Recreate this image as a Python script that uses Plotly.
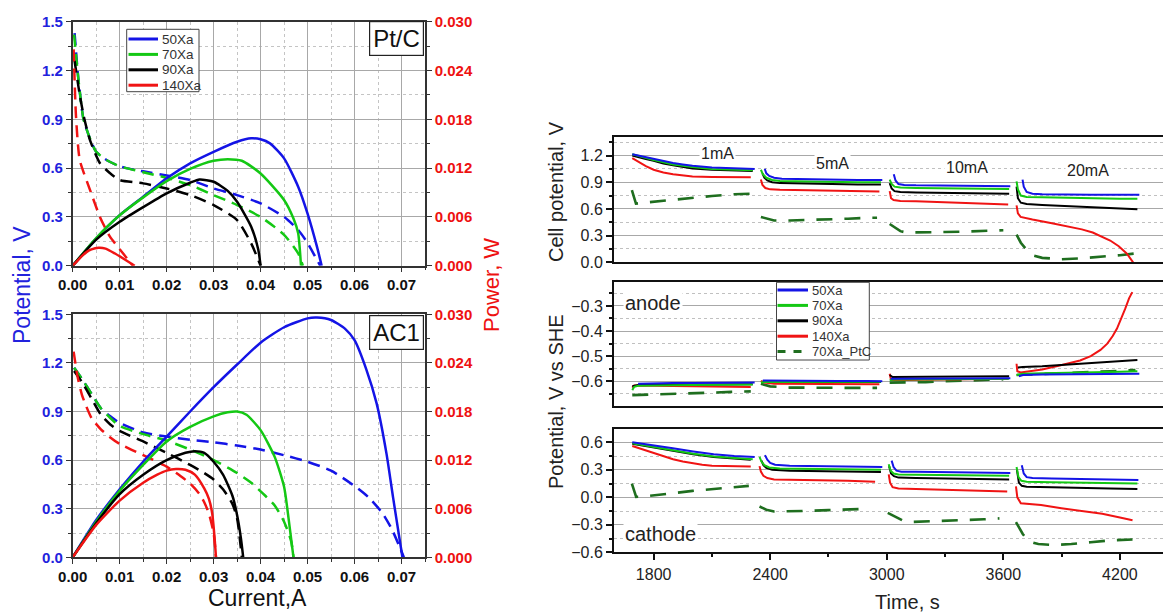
import plotly.graph_objects as go

# ---------------- Left panels: polarization (dashed, V) and power (solid, W) ----------------
# Pt/C panel - polarization curves
pt_50_I = [0.0004, 0.0012, 0.0023, 0.0037, 0.005, 0.0072, 0.0093, 0.0114, 0.015, 0.02, 0.025, 0.03, 0.035, 0.04, 0.045, 0.048, 0.05, 0.052, 0.0527]
pt_50_V = [1.43, 1.15, 0.90, 0.78, 0.70, 0.65, 0.62, 0.60, 0.58, 0.555, 0.527, 0.475, 0.434, 0.383, 0.30, 0.22, 0.14, 0.035, 0.0]
pt_70_I = [0.0003, 0.0012, 0.0023, 0.0037, 0.005, 0.0072, 0.0093, 0.0114, 0.015, 0.02, 0.025, 0.03, 0.035, 0.04, 0.045, 0.048, 0.049]
pt_70_V = [1.42, 1.15, 0.90, 0.78, 0.70, 0.65, 0.62, 0.60, 0.575, 0.54, 0.496, 0.434, 0.373, 0.30, 0.19, 0.076, 0.0]
pt_90_I = [0.0004, 0.0015, 0.0025, 0.0037, 0.0058, 0.0079, 0.01, 0.015, 0.02, 0.025, 0.03, 0.035, 0.038, 0.040]
pt_90_V = [1.26, 1.05, 0.90, 0.77, 0.63, 0.57, 0.527, 0.506, 0.475, 0.434, 0.373, 0.28, 0.137, 0.0]
pt_140_I = [0.0002, 0.0007, 0.0015, 0.0037, 0.0058, 0.0079, 0.0107, 0.0128]
pt_140_V = [1.33, 0.92, 0.65, 0.465, 0.30, 0.18, 0.076, 0.0]
# Pt/C panel - power curves
ptp_50_I = [0, 0.005, 0.01, 0.015, 0.02, 0.025, 0.03, 0.035, 0.038, 0.04, 0.042, 0.045, 0.048, 0.05, 0.052, 0.053]
ptp_50_W = [0, 0.00336, 0.00622, 0.00848, 0.01074, 0.01258, 0.0140, 0.01524, 0.01566, 0.01554, 0.01504, 0.0132, 0.00972, 0.0064, 0.00234, 0]
ptp_70_I = [0, 0.005, 0.01, 0.015, 0.02, 0.025, 0.03, 0.033, 0.036, 0.04, 0.045, 0.047, 0.048, 0.0486]
ptp_70_W = [0, 0.0034, 0.0062, 0.0084, 0.0104, 0.0119, 0.0129, 0.0131, 0.0129, 0.01134, 0.00808, 0.0058, 0.004, 0]
ptp_90_I = [0, 0.005, 0.01, 0.015, 0.02, 0.025, 0.027, 0.03, 0.033, 0.035, 0.038, 0.0395, 0.040]
ptp_90_W = [0, 0.0032, 0.0054, 0.0072, 0.0089, 0.0102, 0.0106, 0.01032, 0.0092, 0.00786, 0.0048, 0.002, 0]
ptp_140_I = [0, 0.001, 0.002, 0.003, 0.004, 0.0055, 0.007, 0.009, 0.011, 0.0132]
ptp_140_W = [0, 0.0006, 0.0012, 0.0017, 0.002, 0.0022, 0.0021, 0.0015, 0.0008, 0]

# AC1 panel - polarization curves
ac_50_I = [0.0003, 0.002, 0.004, 0.006, 0.008, 0.01, 0.015, 0.02, 0.025, 0.03, 0.035, 0.04, 0.045, 0.05, 0.055, 0.06, 0.063, 0.066, 0.068, 0.0698, 0.0705]
ac_50_V = [1.17, 1.10, 1.01, 0.92, 0.87, 0.83, 0.77, 0.745, 0.725, 0.71, 0.69, 0.665, 0.63, 0.59, 0.535, 0.44, 0.37, 0.27, 0.17, 0.05, 0.0]
ac_70_I = [0.0003, 0.002, 0.004, 0.006, 0.008, 0.01, 0.015, 0.02, 0.025, 0.03, 0.035, 0.038, 0.041, 0.043, 0.045, 0.0465, 0.047]
ac_70_V = [1.17, 1.10, 1.01, 0.92, 0.86, 0.81, 0.76, 0.72, 0.665, 0.60, 0.52, 0.46, 0.38, 0.32, 0.22, 0.10, 0.0]
ac_90_I = [0.0003, 0.002, 0.004, 0.006, 0.008, 0.01, 0.015, 0.02, 0.025, 0.028, 0.03, 0.032, 0.034, 0.035, 0.036]
ac_90_V = [1.15, 1.08, 0.98, 0.88, 0.82, 0.78, 0.715, 0.645, 0.57, 0.52, 0.48, 0.42, 0.33, 0.24, 0.0]
ac_140_I = [0.0002, 0.001, 0.002, 0.004, 0.006, 0.008, 0.01, 0.015, 0.02, 0.023, 0.025, 0.027, 0.028, 0.029, 0.030, 0.0305]
ac_140_V = [1.27, 1.12, 1.0, 0.86, 0.79, 0.74, 0.70, 0.63, 0.56, 0.50, 0.455, 0.39, 0.34, 0.27, 0.15, 0.0]
# AC1 panel - power curves
acp_50_I = [0, 0.005, 0.01, 0.015, 0.02, 0.025, 0.03, 0.035, 0.04, 0.045, 0.05, 0.052, 0.055, 0.058, 0.06, 0.0625, 0.0647, 0.0668, 0.0682, 0.0696, 0.0702]
acp_50_W = [0, 0.0046, 0.0084, 0.0118, 0.0149, 0.018, 0.021, 0.0238, 0.0265, 0.0284, 0.0295, 0.0296, 0.0293, 0.0282, 0.0268, 0.0232, 0.019, 0.0128, 0.0074, 0.0022, 0]
acp_70_I = [0, 0.005, 0.01, 0.015, 0.02, 0.025, 0.03, 0.033, 0.035, 0.037, 0.04, 0.043, 0.045, 0.046, 0.047]
acp_70_W = [0, 0.0044, 0.0082, 0.0114, 0.0143, 0.0161, 0.0174, 0.0179, 0.0180, 0.0176, 0.0157, 0.0124, 0.0087, 0.0046, 0]
acp_90_I = [0, 0.005, 0.01, 0.015, 0.02, 0.024, 0.026, 0.028, 0.030, 0.032, 0.034, 0.035, 0.0358, 0.0363]
acp_90_W = [0, 0.0042, 0.0078, 0.0102, 0.012, 0.0129, 0.0131, 0.0129, 0.0118, 0.0102, 0.0076, 0.0052, 0.0024, 0]
acp_140_I = [0, 0.005, 0.01, 0.015, 0.018, 0.02, 0.022, 0.024, 0.026, 0.028, 0.029, 0.0297, 0.0302, 0.0305]
acp_140_W = [0, 0.004, 0.007, 0.0092, 0.0102, 0.0107, 0.0109, 0.0108, 0.0102, 0.0085, 0.0072, 0.0054, 0.0024, 0]

left_names = ["50Xa", "70Xa", "90Xa", "140Xa"]

# ---------------- Right panels: chronopotentiometry ----------------
current_steps = ["1mA", "5mA", "10mA", "20mA"]
right_names = ["50Xa", "70Xa", "90Xa", "140Xa", "70Xa_PtC"]

cell_50_t = [1690,1720,1760,1800,1850,1900,1950,2000,2100,2200,2320, None, 2372,2380,2395,2420,2460,2550,2700,2850,2977, None, 3036,3045,3060,3090,3150,3300,3450,3636, None, 3699,3705,3720,3750,3800,3900,4050,4200,4300]
cell_50_v = [1.215,1.20,1.18,1.16,1.135,1.115,1.10,1.085,1.065,1.055,1.05, None, 1.05,1.0,0.97,0.95,0.94,0.935,0.93,0.925,0.925, None, 0.99,0.92,0.88,0.87,0.865,0.86,0.86,0.855, None, 0.93,0.85,0.79,0.77,0.765,0.76,0.76,0.76,0.76]
cell_70_t = [1690,1720,1760,1800,1850,1900,1950,2000,2100,2200,2310, None, 2352,2362,2380,2410,2450,2550,2700,2850,2970, None, 3015,3025,3040,3070,3150,3300,3450,3630, None, 3668,3675,3690,3720,3800,3900,4050,4200,4290]
cell_70_v = [1.215,1.195,1.17,1.15,1.125,1.10,1.085,1.07,1.05,1.04,1.035, None, 1.04,0.99,0.95,0.925,0.915,0.91,0.905,0.90,0.90, None, 0.93,0.88,0.85,0.84,0.835,0.83,0.83,0.825, None, 0.91,0.82,0.75,0.735,0.73,0.725,0.72,0.715,0.715]
cell_90_t = [1690,1720,1760,1800,1850,1900,1950,2000,2100,2200,2310, None, 2360,2370,2385,2410,2450,2550,2700,2850,2970, None, 3015,3025,3040,3070,3150,3300,3450,3630, None, 3668,3675,3690,3720,3800,3900,4050,4200,4290]
cell_90_v = [1.20,1.18,1.16,1.14,1.11,1.09,1.07,1.055,1.04,1.03,1.025, None, 1.0,0.95,0.92,0.90,0.89,0.885,0.88,0.875,0.875, None, 0.89,0.83,0.80,0.79,0.785,0.78,0.775,0.77, None, 0.85,0.72,0.67,0.655,0.645,0.635,0.62,0.605,0.595]
cell_140_t = [1690,1720,1760,1800,1850,1900,1950,2000,2100,2200,2300, None, 2352,2360,2375,2400,2450,2550,2700,2850,2962, None, 3015,3022,3035,3070,3150,3300,3450,3625, None, 3668,3675,3689,3750,3850,3950,4004,4060,4109,4150,4194,4235,4268]
cell_140_v = [1.17,1.13,1.08,1.04,1.01,0.99,0.975,0.965,0.96,0.955,0.955, None, 0.93,0.87,0.835,0.82,0.815,0.81,0.805,0.80,0.795, None, 0.80,0.72,0.70,0.69,0.685,0.675,0.665,0.65, None, 0.64,0.55,0.51,0.48,0.44,0.40,0.37,0.335,0.29,0.245,0.18,0.10,0.0]
cell_ptc_t = [1688,1709,1750,1794,1900,2004,2100,2215,2300, None, 2352,2380,2420,2500,2600,2700,2800,2900,2950, None, 3015,3040,3070,3100,3200,3300,3400,3500,3600, None, 3668,3690,3720,3750,3800,3900,4000,4100,4200,4280]
cell_ptc_v = [0.81,0.66,0.67,0.68,0.705,0.73,0.745,0.765,0.77, None, 0.51,0.49,0.47,0.47,0.475,0.48,0.49,0.50,0.50, None, 0.43,0.39,0.35,0.335,0.335,0.34,0.345,0.355,0.36, None, 0.31,0.22,0.14,0.08,0.05,0.035,0.045,0.06,0.08,0.10]

an_50_t = [1720,1800,1900,2000,2100,2200,2320, None, 2362,2450,2600,2750,2900,2977, None, 3020,3050,3300,3636, None, 3680,3700,3800,4000,4200,4300]
an_50_v = [-0.61,-0.608,-0.607,-0.607,-0.606,-0.606,-0.605, None, -0.597,-0.598,-0.598,-0.599,-0.599,-0.60, None, -0.59,-0.59,-0.589,-0.588, None, -0.58,-0.575,-0.573,-0.572,-0.571,-0.57]
an_70_t = [1690,1700,1720,1800,1900,2000,2100,2200,2310, None, 2352,2370,2500,2700,2970, None, 3015,3040,3300,3630, None, 3668,3700,3800,4000,4200,4290]
an_70_v = [-0.635,-0.622,-0.618,-0.616,-0.616,-0.615,-0.615,-0.614,-0.613, None, -0.605,-0.603,-0.603,-0.602,-0.602, None, -0.595,-0.593,-0.592,-0.59, None, -0.575,-0.57,-0.568,-0.566,-0.562,-0.56]
an_90_t = [1690,1720,1800,1900,2000,2100,2200,2310, None, 2362,2400,2600,2800,2970, None, 3015,3030,3200,3400,3630, None, 3675,3700,3800,3900,4000,4100,4200,4290]
an_90_v = [-0.62,-0.615,-0.614,-0.614,-0.613,-0.613,-0.612,-0.612, None, -0.60,-0.602,-0.603,-0.603,-0.603, None, -0.575,-0.583,-0.582,-0.581,-0.58, None, -0.545,-0.543,-0.54,-0.535,-0.53,-0.525,-0.52,-0.515]
an_140_t = [1690,1700,1800,1900,2000,2100,2200,2300, None, 2352,2370,2420,2600,2800,2962, None, 3015,3022,3100,3300,3500,3625, None, 3668,3672,3689,3800,3890,3995,4050,4100,4135,4163,4185,4205,4228,4247,4264]
an_140_v = [-0.625,-0.617,-0.618,-0.619,-0.62,-0.621,-0.622,-0.623, None, -0.598,-0.605,-0.61,-0.611,-0.612,-0.612, None, -0.57,-0.595,-0.595,-0.594,-0.592,-0.59, None, -0.53,-0.56,-0.565,-0.553,-0.537,-0.517,-0.50,-0.475,-0.45,-0.42,-0.39,-0.355,-0.31,-0.27,-0.245]
an_ptc_t = [1690,1800,1900,2000,2100,2200,2300, None, 2352,2400,2500,2600,2700,2800,2950, None, 3015,3100,3200,3300,3400,3500,3600, None, 3668,3750,3850,3950,4050,4150,4250,4280]
an_ptc_v = [-0.655,-0.653,-0.651,-0.648,-0.645,-0.642,-0.64, None, -0.61,-0.62,-0.625,-0.626,-0.626,-0.626,-0.626, None, -0.605,-0.605,-0.603,-0.60,-0.597,-0.594,-0.592, None, -0.575,-0.573,-0.57,-0.567,-0.563,-0.56,-0.556,-0.555]

ca_50_t = [1690,1794,1899,2004,2109,2215,2320, None, 2373,2385,2400,2425,2500,2650,2800,2977, None, 3025,3035,3050,3075,3150,3300,3450,3636, None, 3695,3705,3720,3750,3850,4000,4150,4295]
ca_50_v = [0.60,0.57,0.535,0.50,0.47,0.45,0.44, None, 0.46,0.41,0.375,0.355,0.345,0.34,0.335,0.33, None, 0.40,0.33,0.29,0.28,0.278,0.275,0.27,0.265, None, 0.35,0.26,0.22,0.21,0.205,0.20,0.195,0.19]
ca_70_t = [1690,1794,1899,2004,2109,2215,2310, None, 2345,2355,2370,2395,2450,2600,2800,2970, None, 3010,3020,3035,3060,3150,3300,3450,3630, None, 3668,3678,3693,3720,3850,4000,4150,4290]
ca_70_v = [0.59,0.55,0.51,0.475,0.445,0.425,0.415, None, 0.44,0.39,0.35,0.325,0.315,0.31,0.305,0.30, None, 0.36,0.29,0.26,0.25,0.245,0.24,0.238,0.235, None, 0.33,0.22,0.18,0.17,0.165,0.16,0.155,0.15]
ca_90_t = [1690,1794,1899,2004,2109,2215,2300, None, 2355,2365,2380,2410,2500,2650,2800,2970, None, 3012,3022,3037,3060,3150,3300,3450,3630, None, 3670,3680,3695,3720,3850,4000,4150,4290]
ca_90_v = [0.585,0.545,0.505,0.47,0.44,0.42,0.41, None, 0.40,0.35,0.32,0.30,0.29,0.285,0.28,0.275, None, 0.34,0.26,0.23,0.215,0.21,0.205,0.20,0.195, None, 0.30,0.16,0.125,0.115,0.11,0.10,0.095,0.09]
ca_140_t = [1690,1750,1800,1850,1900,1950,2000,2050,2100,2200,2300, None, 2345,2352,2365,2385,2420,2500,2650,2800,2940, None, 3010,3017,3030,3060,3150,3300,3450,3620, None, 3665,3672,3690,3794,3899,4004,4109,4200,4265]
ca_140_v = [0.56,0.52,0.48,0.445,0.415,0.39,0.37,0.355,0.345,0.338,0.335, None, 0.34,0.28,0.235,0.21,0.195,0.19,0.185,0.18,0.17, None, 0.25,0.16,0.11,0.095,0.09,0.08,0.07,0.062, None, 0.12,0.0,-0.065,-0.085,-0.12,-0.15,-0.18,-0.22,-0.25]
ca_ptc_t = [1688,1700,1710,1750,1800,1900,2000,2100,2200,2290, None, 2345,2380,2420,2500,2600,2700,2800,2910, None, 3005,3040,3080,3120,3200,3300,3400,3500,3580, None, 3665,3700,3730,3780,3860,3950,4050,4150,4265]
ca_ptc_v = [0.15,0.06,0.005,0.01,0.02,0.045,0.07,0.09,0.11,0.125, None, -0.10,-0.135,-0.155,-0.155,-0.148,-0.14,-0.132,-0.125, None, -0.17,-0.21,-0.25,-0.27,-0.265,-0.26,-0.25,-0.24,-0.23, None, -0.27,-0.40,-0.48,-0.51,-0.52,-0.51,-0.49,-0.47,-0.46]

# ---------------- styling ----------------
PAGE_W, PAGE_H = 1171, 613
OFF = 8                      # default page margin around the figure
W, H = PAGE_W - OFF, PAGE_H - OFF
FONT = "Liberation Sans, Arial, sans-serif"
BLUE, GREEN, BLACK, RED, DKGREEN = "#1414e6", "#14c814", "#000000", "#f01414", "#1f6e1f"
COLS = [BLUE, GREEN, BLACK, RED]
AXBLUE, AXRED = "#2222dd", "#ee1111"

def px(x):
    return (x - OFF) / W

def py(y):
    return 1 - (y - OFF) / H

fig = go.Figure()

top_pol = [(pt_50_I, pt_50_V), (pt_70_I, pt_70_V), (pt_90_I, pt_90_V), (pt_140_I, pt_140_V)]
top_pow = [(ptp_50_I, ptp_50_W), (ptp_70_I, ptp_70_W), (ptp_90_I, ptp_90_W), (ptp_140_I, ptp_140_W)]
bot_pol = [(ac_50_I, ac_50_V), (ac_70_I, ac_70_V), (ac_90_I, ac_90_V), (ac_140_I, ac_140_V)]
bot_pow = [(acp_50_I, acp_50_W), (acp_70_I, acp_70_W), (acp_90_I, acp_90_W), (acp_140_I, acp_140_W)]

for pol, pw, xa, ya, ya2 in [(top_pol, top_pow, "x", "y", "y2"), (bot_pol, bot_pow, "x2", "y3", "y4")]:
    for (xi, yi), nm, c in zip(pol, left_names, COLS):
        fig.add_trace(go.Scatter(x=xi, y=yi, mode="lines", name=nm, showlegend=False,
                                 line=dict(color=c, width=2.5, dash="12px,7px", shape="spline", smoothing=0.6),
                                 xaxis=xa, yaxis=ya))
    for (xi, yi), nm, c in zip(pw, left_names, COLS):
        fig.add_trace(go.Scatter(x=xi, y=yi, mode="lines", name=nm, showlegend=False,
                                 line=dict(color=c, width=2.5, shape="spline", smoothing=0.6),
                                 xaxis=xa, yaxis=ya2))

RCOLS = [BLUE, GREEN, BLACK, RED, DKGREEN]
panels = [
    ("x3", "y5", [(cell_50_t, cell_50_v), (cell_70_t, cell_70_v), (cell_90_t, cell_90_v), (cell_140_t, cell_140_v), (cell_ptc_t, cell_ptc_v)]),
    ("x4", "y6", [(an_50_t, an_50_v), (an_70_t, an_70_v), (an_90_t, an_90_v), (an_140_t, an_140_v), (an_ptc_t, an_ptc_v)]),
    ("x5", "y7", [(ca_50_t, ca_50_v), (ca_70_t, ca_70_v), (ca_90_t, ca_90_v), (ca_140_t, ca_140_v), (ca_ptc_t, ca_ptc_v)]),
]
for xa, ya, series in panels:
    for k in [4, 3, 2, 1, 0]:
        t, v = series[k]
        dash = "16px,12px" if k == 4 else "solid"
        fig.add_trace(go.Scatter(x=t, y=v, mode="lines", name=right_names[k], showlegend=False,
                                 connectgaps=False,
                                 line=dict(color=RCOLS[k], width=2.6 if k == 4 else 2, dash=dash),
                                 xaxis=xa, yaxis=ya))

# ---------------- axes ----------------
LX = [px(72.7), px(425)]
left_tick_font = dict(family=FONT, size=15, color="#111111", weight="bold")

def left_x(anchor):
    return dict(domain=LX, anchor=anchor, range=[0, 0.075], tickmode="linear", tick0=0, dtick=0.01,
                tickformat=".2f", ticks="outside", ticklen=5, tickwidth=1.3, tickcolor="#333",
                showgrid=True, gridcolor="#a8a8a8", gridwidth=1,
                minor=dict(dtick=0.005, ticks="outside", ticklen=3, tickcolor="#333", showgrid=True,
                           gridcolor="#c4c4c4", griddash="dot", gridwidth=1),
                showline=True, linecolor="#333", linewidth=1.5, mirror=True, zeroline=False,
                tickfont=left_tick_font, automargin=False, fixedrange=True)

def left_y(anchor, dom):
    return dict(domain=dom, anchor=anchor, range=[0, 1.5], tickmode="linear", tick0=0, dtick=0.3,
                tickformat=".1f", ticks="outside", ticklen=5, tickwidth=1.3, tickcolor="#333",
                showgrid=True, gridcolor="#a8a8a8", gridwidth=1,
                minor=dict(dtick=0.15, ticks="outside", ticklen=3, tickcolor="#333", showgrid=True,
                           gridcolor="#c4c4c4", griddash="dot", gridwidth=1),
                showline=True, linecolor="#333", linewidth=1.5, mirror=False, zeroline=False,
                automargin=False, fixedrange=True,
                tickfont=dict(family=FONT, size=15, color=AXBLUE, weight="bold"))

def left_y_right(over, anchor):
    return dict(overlaying=over, anchor=anchor, side="right", range=[0, 0.03], tickmode="linear",
                tick0=0, dtick=0.006, tickformat=".3f", ticks="outside", ticklen=5, tickwidth=1.3,
                tickcolor="#333", showgrid=False,
                minor=dict(dtick=0.003, ticks="outside", ticklen=3, tickcolor="#333", showgrid=False),
                showline=True, linecolor="#333", linewidth=1.5, zeroline=False,
                automargin=False, fixedrange=True,
                tickfont=dict(family=FONT, size=15, color=AXRED, weight="bold"))

TOP_DOM = [py(265.7), py(21.7)]
BOT_DOM = [py(557.3), py(314.3)]

RX = [px(614), 1.0]
XR = [1596, 4463]
right_tick_font = dict(family=FONT, size=16, color="#222222")

def right_x(anchor, labels):
    d = dict(domain=RX, anchor=anchor, range=XR, showgrid=False, zeroline=False,
             showline=True, linecolor="#111", linewidth=2, mirror=True, fixedrange=True, automargin=False)
    if labels:
        d.update(tickmode="linear", tick0=1800, dtick=600, ticks="outside", ticklen=6, tickwidth=1.5,
                 tickcolor="#111", tickfont=right_tick_font,
                 minor=dict(dtick=300, tick0=1800, ticks="outside", ticklen=3, tickcolor="#111"))
    else:
        d.update(showticklabels=False, ticks="")
    return d

def right_y(anchor, dom, rng, dtick, tick0, fmt):
    return dict(domain=dom, anchor=anchor, range=rng, tickmode="linear", tick0=tick0, dtick=dtick,
                tickformat=fmt, ticks="outside", ticklen=6, tickwidth=1.5, tickcolor="#111",
                showgrid=True, gridcolor="#a8a8a8", gridwidth=1.2,
                minor=dict(dtick=dtick / 2, tick0=tick0, ticks="outside", ticklen=3, tickcolor="#111",
                           showgrid=True, gridcolor="#c0c0c0", griddash="dot", gridwidth=1),
                showline=True, linecolor="#111", linewidth=2, mirror=False, zeroline=False,
                tickfont=right_tick_font, fixedrange=True, automargin=False)

fig.update_layout(
    template="none",
    width=W, height=H, margin=dict(l=0, r=0, t=0, b=0, pad=0), autosize=False,
    paper_bgcolor="white", plot_bgcolor="white", showlegend=False,
    font=dict(family=FONT),
    xaxis=left_x("y"),
    yaxis=left_y("x", TOP_DOM),
    yaxis2=left_y_right("y", "x"),
    xaxis2=left_x("y3"),
    yaxis3=left_y("x2", BOT_DOM),
    yaxis4=left_y_right("y3", "x2"),
    xaxis3=right_x("y5", False),
    yaxis5=right_y("x3", [py(262.3), py(137.3)], [0, 1.405], 0.3, 0, ".1f"),
    xaxis4=right_x("y6", False),
    yaxis6=right_y("x4", [py(405.7), py(282.3)], [-0.697, -0.206], 0.1, -0.6, ".1f"),
    xaxis5=right_x("y7", True),
    yaxis7=right_y("x5", [py(552.3), py(429)], [-0.6, 0.745], 0.3, 0, ".1f"),
)

ann = []

def pann(text, x, y, size, color, angle=0, xa="center", ya="middle", **kw):
    d = dict(text=text, x=px(x), y=py(y), xref="paper", yref="paper", showarrow=False,
             textangle=angle, xanchor=xa, yanchor=ya, font=dict(family=FONT, size=size, color=color))
    d.update(kw)
    ann.append(d)

pann("Potential, V", 22, 285, 23, AXBLUE, angle=-90)
pann("Power, W", 492, 285, 22, AXRED, angle=-90)
pann("Current,A", 257, 598, 23, "#111")
for txt, ytop in [("Pt/C", 20.7), ("AC1", 315)]:
    pann(txt, 423.5, ytop, 24, "#111", xa="right", ya="top", bgcolor="white", bordercolor="#222",
         borderwidth=1.2, borderpad=3)

pann("Cell potential, V", 556, 192, 20, "#222", angle=-90)
pann("Potential, V vs SHE", 556, 402, 20, "#222", angle=-90)
pann("Time, s", 907, 602, 20, "#222")

step_pos = [(2130, 1.22), (2720, 1.11), (3415, 1.06), (4036, 1.03)]
for txt, (tx, ty) in zip(current_steps, step_pos):
    ann.append(dict(text=txt, x=tx, y=ty, xref="x3", yref="y5", showarrow=False, bgcolor="white",
                    xanchor="center", yanchor="middle", font=dict(family=FONT, size=16, color="#222")))
ann.append(dict(text="anode", x=1640, y=-0.29, xref="x4", yref="y6", showarrow=False, xanchor="left",
                yanchor="middle", bgcolor="white", font=dict(family=FONT, size=20, color="#222")))
ann.append(dict(text="cathode", x=1640, y=-0.40, xref="x5", yref="y7", showarrow=False, xanchor="left",
                yanchor="middle", bgcolor="white", font=dict(family=FONT, size=20, color="#222")))

shapes = []
shapes.append(dict(type="rect", xref="paper", yref="paper", x0=px(126.7), x1=px(199), y0=py(91.7), y1=py(29.3),
                   fillcolor="white", line=dict(color="#444", width=1)))
for i, (nm, c) in enumerate(zip(left_names, COLS)):
    yy = 39 + i * 15.4
    shapes.append(dict(type="line", xref="paper", yref="paper", x0=px(128.5), x1=px(158), y0=py(yy), y1=py(yy),
                       line=dict(color=c, width=3)))
    pann(nm, 160, yy, 13.5, "#333", xa="left")
shapes.append(dict(type="rect", xref="paper", yref="paper", x0=px(776.5), x1=px(869.3), y0=py(360), y1=py(282.3),
                   fillcolor="white", line=dict(color="#444", width=1)))
for i, (nm, c) in enumerate(zip(right_names, RCOLS)):
    yy = 290 + i * 15.4
    shapes.append(dict(type="line", xref="paper", yref="paper", x0=px(777.5), x1=px(808), y0=py(yy), y1=py(yy),
                       line=dict(color=c, width=3, dash="8px,8px" if i == 4 else "solid")))
    pann(nm, 810, yy, 13, "#333", xa="left")

fig.update_layout(annotations=ann, shapes=shapes)
fig.write_html("out.html")
